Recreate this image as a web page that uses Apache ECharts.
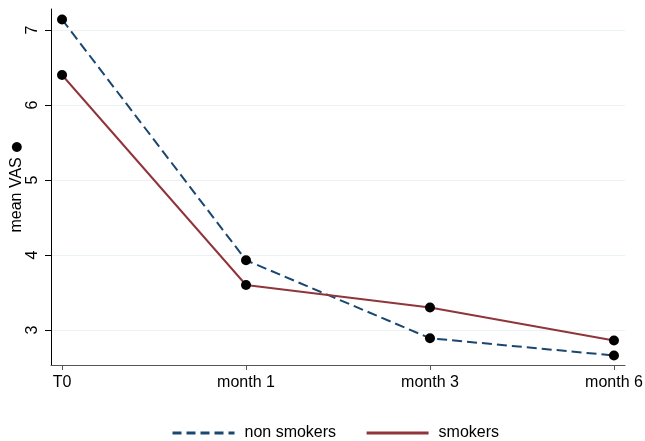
<!DOCTYPE html>
<html>
<head>
<meta charset="utf-8">
<script src="https://cdn.jsdelivr.net/npm/echarts@6/dist/echarts.min.js"></script>
<style>
  html, body { margin: 0; padding: 0; background: #fff; }
  #chart { width: 645px; height: 441px; }
</style>
</head>
<body>
<div id="chart"></div>
<script>
// Visit labels along the x axis
const visits = ['T0', 'month 1', 'month 3', 'month 6'];
// Mean VAS per visit
const nonSmokers = [7.14, 3.93, 2.89, 2.66];
const smokers = [6.40, 3.60, 3.30, 2.86];
// Y tick values
const yTicks = [3, 4, 5, 6, 7];

const blue = '#1a476f';
const red = '#90353b';
const font = '"Liberation Sans", Arial, Helvetica, sans-serif';

const pairs = (vals) => vals.map((v, i) => [i, v]);
const xIdx = visits.map((_, i) => i);

const chart = echarts.init(document.getElementById('chart'), null, { renderer: 'canvas' });
chart.setOption({
  animation: false,
  textStyle: { fontFamily: font },
  grid: { left: 51, right: 20, top: 9, bottom: 76, containLabel: false, outerBoundsMode: 'none' },
  xAxis: {
    type: 'value',
    min: -0.06,
    max: 3.06,
    axisLine: { show: true, onZero: false, lineStyle: { color: '#555', width: 1 } },
    axisTick: { show: true, customValues: xIdx, length: 5, lineStyle: { color: '#555' } },
    axisLabel: {
      customValues: xIdx,
      formatter: (v) => visits[Math.round(v)],
      color: '#000', fontSize: 16, margin: 10, fontFamily: font
    },
    splitLine: { show: false }
  },
  yAxis: {
    type: 'value',
    min: 2.533,
    max: 7.28,
    name: 'mean VAS {d|\u25CF}',
    nameLocation: 'middle',
    nameGap: 26,
    nameMoveOverlap: false,
    nameTextStyle: {
      color: '#000', fontSize: 16, fontFamily: font,
      rich: { d: { fontSize: 13, fontFamily: '"DejaVu Sans", sans-serif', color: '#000' } }
    },
    axisLine: { show: true, onZero: false, lineStyle: { color: '#000', width: 1 } },
    axisTick: { show: true, customValues: yTicks, length: 6, lineStyle: { color: '#000' } },
    axisLabel: {
      customValues: yTicks,
      rotate: 90,
      color: '#000', fontSize: 16, margin: 10, fontFamily: font
    },
    splitLine: { show: true, customValues: yTicks, lineStyle: { color: '#eaf2f3', width: 1 } }
  },
  legend: {
    top: 420,
    left: 166,
    itemWidth: 62,
    itemHeight: 14,
    itemGap: 29,
    itemStyle: { opacity: 0 },
    textStyle: { color: '#000', fontSize: 16, fontFamily: font, padding: [0, 0, 0, 5] },
    data: [
      { name: 'non smokers', lineStyle: { width: 3, type: [9, 5] } },
      { name: 'smokers', lineStyle: { width: 3 } }
    ]
  },
  series: [
    {
      name: 'non smokers',
      type: 'line',
      data: pairs(nonSmokers),
      symbol: 'none',
      lineStyle: { color: blue, width: 2, type: [10, 5] },
      itemStyle: { color: blue },
      z: 2
    },
    {
      name: 'smokers',
      type: 'line',
      data: pairs(smokers),
      symbol: 'none',
      lineStyle: { color: red, width: 2 },
      itemStyle: { color: red },
      z: 2
    },
    {
      name: 'dots-non',
      type: 'scatter',
      data: pairs(nonSmokers),
      symbol: 'circle',
      symbolSize: 10,
      itemStyle: { color: '#000', opacity: 1 },
      z: 3
    },
    {
      name: 'dots-smk',
      type: 'scatter',
      data: pairs(smokers),
      symbol: 'circle',
      symbolSize: 10,
      itemStyle: { color: '#000', opacity: 1 },
      z: 3
    }
  ]
});
</script>
</body>
</html>
